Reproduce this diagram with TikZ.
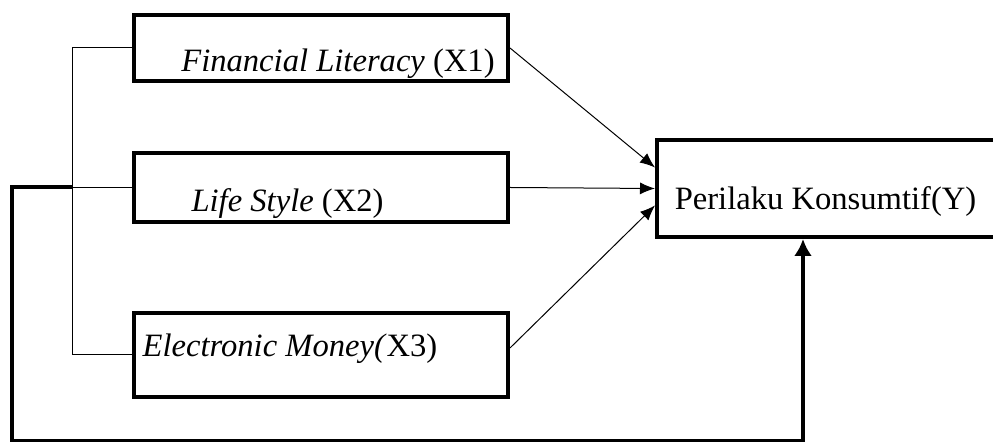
\documentclass[tikz,border=0pt]{standalone}
\usepackage{fontspec}
\setmainfont{Liberation Serif}
\usetikzlibrary{arrows.meta}

\tikzset{
  var/.style={draw,line width=2pt,inner sep=0pt},
  lbl/.style={anchor=base,inner sep=0pt,font=\fontsize{16.3}{19}\selectfont},
  thinline/.style={line width=0.5pt},
  thickline/.style={line width=2pt}
}

\begin{document}
\begin{tikzpicture}[x=0.5pt,y=-0.5pt,>={Latex[length=7.5pt,width=6pt]}]
    \clip (0,0) rectangle (993,442);
    \node[var,minimum width=187pt,minimum height=33pt]   (x1) at (321,48) {};
    \node[var,minimum width=187pt,minimum height=34.5pt] (x2) at (321,187.5) {};
    \node[var,minimum width=187pt,minimum height=42pt]   (x3) at (321,355) {};
    \node[var,minimum width=201.5pt,minimum height=48.5pt] (y) at (858.5,188.5) {};
    \node[lbl] (x1t) at (338,72)   {\textit{Financial Literacy} (X1)};
    \node[lbl] (x2t) at (287.5,212) {\textit{Life Style} (X2)};
    \node[lbl] (x3t) at (290,357)  {\textit{Electronic Money(}X3)};
    \node[lbl] (yt)  at (825.5,210) {Perilaku Konsumtif(Y)};
    % bus to the three variables
    \coordinate (btop) at (72,48);
    \draw[thinline] (x1.west) -- (btop) |- (x3.west);
    \draw[thinline] (btop |- x2.west) -- (x2.west);
    % simultaneous path
    \coordinate (fb) at (12,441);
    \coordinate (fbend) at (803,441);
    \draw[thickline,-{Latex[length=8.5pt,width=9pt]}] (btop |- x2.west) -| (fb) -- (fbend) -- (fbend |- y.south);
    % partial paths
    \draw[thinline,->] (x1.east) -- ([yshift=10.5pt]y.west);
    \draw[thinline,->] (x2.east) -- (y.west);
    \draw[thinline,->] ([yshift=3.5pt]x3.east) -- ([yshift=-8.5pt]y.west);
\end{tikzpicture}
\end{document}
